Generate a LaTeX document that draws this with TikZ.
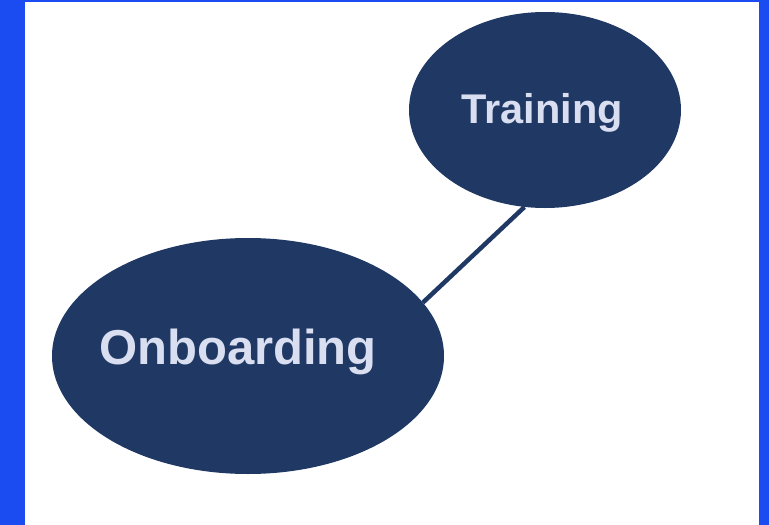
\documentclass[tikz,border=0pt]{standalone}
\usepackage{fontspec}
\setmainfont{Liberation Sans}
\usetikzlibrary{shapes.geometric}
\definecolor{navy}{HTML}{1F3864}
\definecolor{lavender}{HTML}{D9DEF0}
\definecolor{frameblue}{HTML}{1A4CF2}

\begin{document}
\begin{tikzpicture}[x=1pt, y=-1pt,
  bubble/.style={ellipse, fill=navy, inner sep=0pt},
  bubbletext/.style={anchor=base, text=lavender, font=\bfseries, inner sep=0pt}]
% Marco y fondo
\fill[frameblue] (0,0) rectangle (769,525);
\fill[white] (25,2) rectangle (759,525);
\useasboundingbox (0,0) rectangle (769,525);
% Elipses
\node[bubble, minimum width=272pt, minimum height=196pt] (train) at (545,110) {};
\node[bubble, minimum width=392pt, minimum height=236pt] (onb) at (248,356) {};
\node[bubbletext, font=\bfseries\fontsize{41.5}{50}\selectfont] (traintext) at (542,123) {Training};
\node[bubbletext, font=\bfseries\fontsize{49}{59}\selectfont] (onbtext) at (238,364) {Onboarding};
% Conector
\draw[navy, line width=4.5pt] (train.258) -- (onb.17);
\end{tikzpicture}
\end{document}
